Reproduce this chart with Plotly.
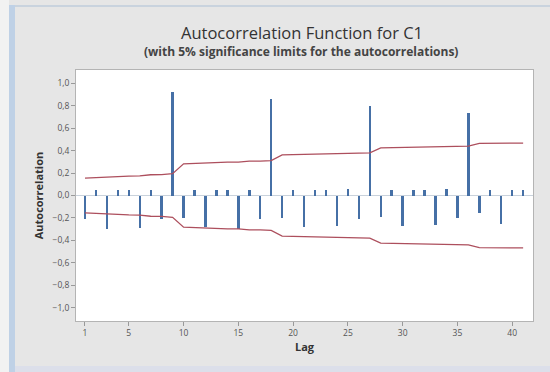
import plotly.graph_objects as go

# Lag numbers and sample autocorrelations for column C1
lags = list(range(1, 42))
acf = [
    -0.21, 0.05, -0.30, 0.05, 0.05, -0.29, 0.05, -0.21, 0.92,
    -0.20, 0.05, -0.28, 0.05, 0.05, -0.30, 0.05, -0.21, 0.86,
    -0.20, 0.05, -0.28, 0.05, 0.05, -0.27, 0.06, -0.21, 0.80,
    -0.19, 0.05, -0.27, 0.05, 0.05, -0.26, 0.06, -0.20, 0.74,
    -0.16, 0.05, -0.25, 0.05, 0.05,
]
# Upper 5% significance limit at each lag (lower limit is its negative)
sig_upper = [
    0.155, 0.160, 0.162, 0.172, 0.173, 0.175, 0.185, 0.187, 0.195,
    0.283, 0.288, 0.289, 0.296, 0.297, 0.298, 0.306, 0.307, 0.312,
    0.362, 0.365, 0.366, 0.370, 0.371, 0.372, 0.377, 0.378, 0.380,
    0.425, 0.427, 0.428, 0.431, 0.432, 0.433, 0.436, 0.437, 0.440,
    0.465, 0.466, 0.467, 0.468, 0.468,
]
sig_lower = [-v for v in sig_upper]

x_ticks = [1, 5, 10, 15, 20, 25, 30, 35, 40]
y_ticks = [-1.0, -0.8, -0.6, -0.4, -0.2, 0.0, 0.2, 0.4, 0.6, 0.8, 1.0]

W, H = 550, 372
L, R, T, B = 76, 17, 70, 51
pw, ph = W - L - R, H - T - B


def px_x(p):
    return (p - L) / pw


def px_y(p):
    return (H - B - p) / ph


fig = go.Figure()

fig.add_trace(go.Bar(
    x=lags, y=acf, width=0.22,
    marker=dict(color="#4670a6", line=dict(width=0)),
    showlegend=False,
))
fig.add_trace(go.Scatter(
    x=lags, y=sig_upper, mode="lines",
    line=dict(color="#ad4f5d", width=1.3), showlegend=False,
))
fig.add_trace(go.Scatter(
    x=lags, y=sig_lower, mode="lines",
    line=dict(color="#ad4f5d", width=1.3), showlegend=False,
))

shapes = [
    # window edges around the graph
    dict(type="rect", xref="paper", yref="paper",
         x0=px_x(0), x1=px_x(9), y0=px_y(372), y1=px_y(0),
         fillcolor="#f2f2f2", line=dict(width=0), layer="below"),
    dict(type="rect", xref="paper", yref="paper",
         x0=px_x(9), x1=px_x(15), y0=px_y(372), y1=px_y(5),
         fillcolor="#bfd1e6", line=dict(width=0), layer="below"),
    dict(type="rect", xref="paper", yref="paper",
         x0=px_x(15), x1=px_x(550), y0=px_y(7), y1=px_y(5),
         fillcolor="#c9d3de", line=dict(width=0), layer="below"),
    dict(type="rect", xref="paper", yref="paper",
         x0=px_x(15), x1=px_x(550), y0=px_y(372), y1=px_y(366),
         fillcolor="#dcdfea", line=dict(width=0), layer="below"),
    # zero reference line
    dict(type="line", xref="paper", yref="y",
         x0=0, x1=1, y0=0, y1=0,
         line=dict(color="#c9d2dc", width=1), layer="below"),
]

fig.update_layout(
    width=W, height=H,
    margin=dict(l=L, r=R, t=T, b=B),
    paper_bgcolor="#e6e6e6",
    plot_bgcolor="#ffffff",
    separators=",.",
    font=dict(family="Open Sans, sans-serif", color="#444444"),
    bargap=0,
    shapes=shapes,
    annotations=[
        dict(text="Autocorrelation Function for C1", xref="paper", yref="paper",
             x=px_x(302), y=px_y(33), yanchor="middle", xanchor="center",
             showarrow=False, font=dict(size=16.5, color="#333333")),
        dict(text="<b>(with 5% significance limits for the autocorrelations)</b>",
             xref="paper", yref="paper", x=px_x(301), y=px_y(51),
             yanchor="middle", xanchor="center", showarrow=False,
             font=dict(size=12, color="#444444")),
    ],
    xaxis=dict(
        range=[0.18, 41.9],
        tickvals=x_ticks, ticktext=[str(v) for v in x_ticks],
        ticks="outside", ticklen=4, tickcolor="#999999",
        showgrid=False, zeroline=False,
        showline=True, linecolor="#b4b4b4", linewidth=1, mirror=True,
        tickfont=dict(size=8.5, color="#555555"),
        title=dict(text="<b>Lag</b>", font=dict(size=11, color="#333333"), standoff=6),
    ),
    yaxis=dict(
        range=[-1.12, 1.12],
        tickvals=y_ticks, tickformat=".1f",
        ticks="outside", ticklen=4, tickcolor="#999999",
        showgrid=False, zeroline=False,
        showline=True, linecolor="#b4b4b4", linewidth=1, mirror=True,
        tickfont=dict(size=8.5, color="#555555"),
        title=dict(text="<b>Autocorrelation</b>", font=dict(size=11, color="#333333"),
                   standoff=6),
    ),
)

fig.write_html("out.html")
